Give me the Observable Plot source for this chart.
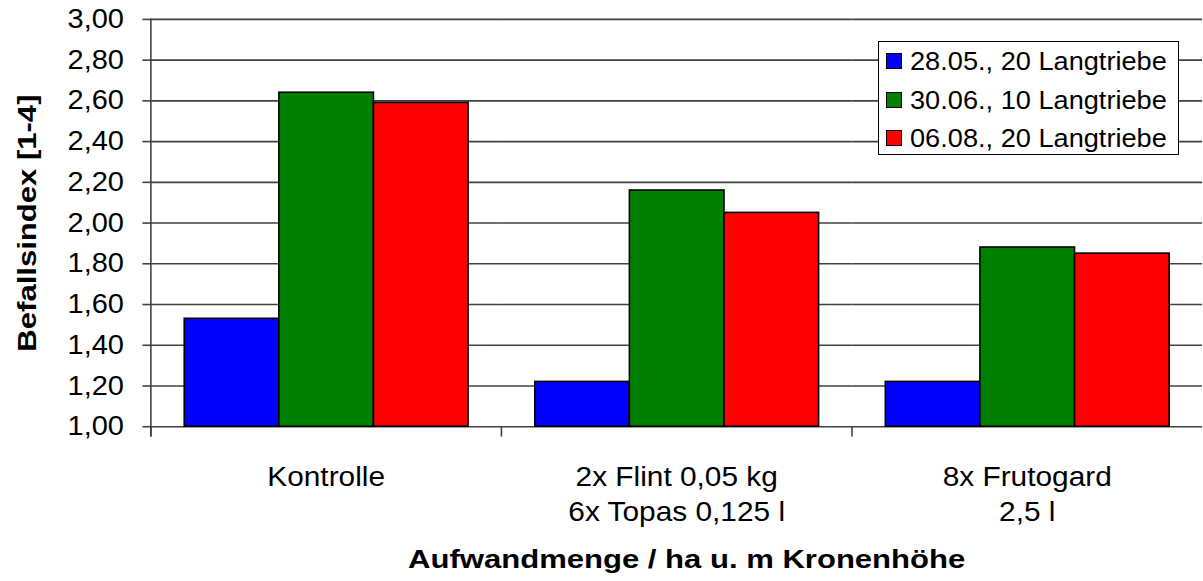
<!DOCTYPE html>
<html>
<head>
<meta charset="utf-8">
<script src="https://cdn.jsdelivr.net/npm/d3@7"></script>
<script src="https://cdn.jsdelivr.net/npm/@observablehq/plot@0.6"></script>
<style>
  html, body { margin: 0; padding: 0; background: white; }
  #wrap { position: relative; width: 1203px; height: 581px; overflow: hidden; background: white; }
  #legend { position: absolute; left: 878px; top: 41px; width: 301px; height: 114px; box-sizing: border-box;
    border: 1px solid #000; background: white; font-family: 'Liberation Sans', Arial, sans-serif; font-size: 26px; color: #000; }
  #legend .row { position: relative; height: 38.5px; }
  #legend .sw { position: absolute; left: 7px; top: 11px; width: 16px; height: 16px; box-sizing: border-box; border: 1px solid #000; }
  #legend .lb { position: absolute; left: 31px; top: 0; line-height: 38.5px; white-space: nowrap; display: inline-block; transform-origin: left center; transform: scaleX(1.045); }
</style>
</head>
<body>
<div id="wrap"></div>
<script>
// ---- data ----
const categories = ["Kontrolle", "2x Flint 0,05 kg\n6x Topas 0,125 l", "8x Frutogard\n2,5 l"];
const series = ["28.05., 20 Langtriebe", "30.06., 10 Langtriebe", "06.08., 20 Langtriebe"];
const values2805 = [1.53, 1.22, 1.22];
const values3006 = [2.64, 2.16, 1.88];
const values0608 = [2.59, 2.05, 1.85];
const seriesColors = ["#0000ff", "#008000", "#ff0000"];
const yTicks = [1.0, 1.2, 1.4, 1.6, 1.8, 2.0, 2.2, 2.4, 2.6, 2.8, 3.0];
const yMin = 1.0, yMax = 3.0;
const yLabel = "Befallsindex [1-4]";
const xLabel = "Aufwandmenge / ha u. m Kronenhöhe";

const allValues = [values2805, values3006, values0608];
const rows = [];
categories.forEach((c, i) => series.forEach((s, j) => rows.push({category: c, series: s, value: allValues[j][i], base: yMin})));

const fmt = d => d.toFixed(2).replace(".", ",");

const plot = Plot.plot({
  width: 1208,
  height: 581,
  marginLeft: 150,
  marginRight: 0,
  marginTop: 19,
  marginBottom: 153,
  style: {fontFamily: "'Liberation Sans', Arial, sans-serif", fontSize: "26px", color: "#000", background: "white", overflow: "visible"},
  fx: {domain: categories, padding: 0, label: null},
  x: {domain: series, paddingInner: 0, paddingOuter: 0.35, axis: null},
  y: {domain: [yMin, yMax], label: null},
  color: {domain: series, range: seriesColors},
  marks: [
    Plot.gridY(yTicks, {stroke: "#404040", strokeOpacity: 1, strokeWidth: 1.6}),
    Plot.barY(rows, {fx: "category", x: "series", y1: "base", y2: "value", fill: "series", stroke: "#000", strokeWidth: 1.6, inset: 0}),
    Plot.frame({anchor: "left", insetTop: 409, insetBottom: -9, stroke: "#404040", strokeWidth: 1.6}),
    Plot.frame({anchor: "left", insetBottom: -9, stroke: "#404040", strokeWidth: 1.6, facetAnchor: "left"}),
    Plot.axisY(yTicks, {tickSize: 8, tickPadding: 19, tickFormat: fmt, stroke: "#404040", strokeWidth: 1.6, fontSize: 27, label: null}),
    Plot.axisFx({anchor: "bottom", tickSize: 0, tickPadding: 35, lineHeight: 1.25, fontSize: 28, label: null}),
    Plot.text([{category: categories[0], t: yLabel}], {fx: "category", text: "t", frameAnchor: "left", textAnchor: "middle", rotate: -90, dx: -124, fontWeight: "bold", lineAnchor: "middle"}),
    Plot.text([{category: categories[1], t: xLabel}], {fx: "category", text: "t", frameAnchor: "bottom", textAnchor: "middle", dx: 10, dy: 134, fontWeight: "bold", lineAnchor: "middle"})
  ]
});

const wrap = document.getElementById("wrap");
wrap.appendChild(plot);

// legend
const color = plot.scale("color");
const legend = document.createElement("div");
legend.id = "legend";
series.forEach((s, j) => {
  const row = document.createElement("div");
  row.className = "row";
  const sw = document.createElement("span");
  sw.className = "sw";
  sw.style.background = color.range[j];
  const lb = document.createElement("span");
  lb.className = "lb";
  lb.textContent = s;
  row.appendChild(sw); row.appendChild(lb);
  legend.appendChild(row);
});
wrap.appendChild(legend);

// slight horizontal widening of text to match the reference's wide letterforms
function stretch(el, f) {
  const tspans = el.querySelectorAll("tspan");
  const targets = tspans.length ? Array.from(tspans) : [el];
  for (const t of targets) {
    const w = t.getComputedTextLength();
    if (w > 0) {
      t.setAttribute("textLength", (w * f).toFixed(1));
      t.setAttribute("lengthAdjust", "spacingAndGlyphs");
    }
  }
}
plot.querySelectorAll('g[aria-label="y-axis tick label"] text').forEach(t => stretch(t, 1.08));
plot.querySelectorAll('g[aria-label="fx-axis tick label"] text').forEach(t => stretch(t, 1.07));
plot.querySelectorAll('g[aria-label="text"] text').forEach(t => stretch(t, 1.2));
</script>
</body>
</html>
